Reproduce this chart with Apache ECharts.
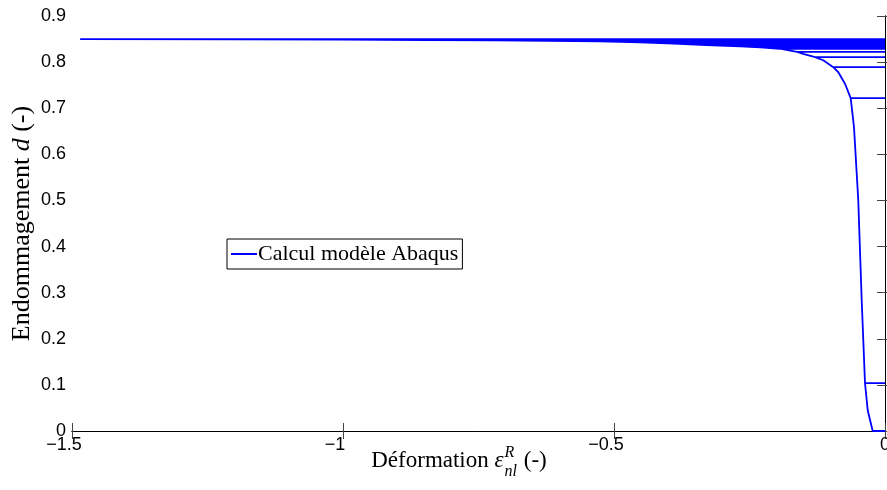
<!DOCTYPE html>
<html><head><meta charset="utf-8">
<script src="https://cdn.jsdelivr.net/npm/echarts@6/dist/echarts.min.js"></script>
<style>html,body{margin:0;padding:0;background:#fff}#c{width:887px;height:490px}</style>
</head><body><div id="c"></div>
<script>
// Envelope (monotonic loading curve): strain and damage
const envEps = [-0.0227, -0.0319, -0.0369, -0.043, -0.0493, -0.0572, -0.0633, -0.0738, -0.0861, -0.0954, -0.114, -0.129, -0.151, -0.162, -0.175, -0.194, -0.23, -0.2675, -0.33, -0.39, -0.452, -0.526, -0.62, -0.72, -0.85, -1.0, -1.2, -1.485];
const envD   = [0, 0.045, 0.104, 0.284, 0.50, 0.659, 0.722, 0.753, 0.778, 0.789, 0.804, 0.811, 0.818, 0.822, 0.825, 0.829, 0.832, 0.834, 0.837, 0.840, 0.843, 0.845, 0.846, 0.847, 0.848, 0.849, 0.8495, 0.85];
// Damage levels at which the model unloads back to zero strain
const unloadLevels = [0.104, 0.722, 0.789, 0.811, 0.822, 0.829, 0.832, 0.834, 0.837, 0.840, 0.843, 0.845, 0.846, 0.847, 0.848, 0.849, 0.8495, 0.85];
const startPoint = [0, 0];
const xTicks = [-1.5, -1, -0.5, 0];
const yTicks = [0, 0.1, 0.2, 0.3, 0.4, 0.5, 0.6, 0.7, 0.8, 0.9];
const seriesName = 'Calcul modèle Abaqus';

const path = [startPoint];
for (let i = 0; i < envEps.length; i++) {
  path.push([envEps[i], envD[i]]);
  if (unloadLevels.indexOf(envD[i]) >= 0) {
    path.push([0, envD[i]]);
    if (i < envEps.length - 1) path.push([envEps[i], envD[i]]);
  }
}

const chart = echarts.init(document.getElementById('c'), null, {renderer: 'canvas'});
const sans = '"Liberation Sans", Arial, sans-serif';
const serif = '"Liberation Serif", "Times New Roman", serif';
const fmtX = v => (v < 0 ? '{n|\u2212' + String(Math.abs(v)) + '}' : '{p|' + String(v) + '}');
const fmtY = v => (v === 0 ? '0' : v.toFixed(1));
const tickStyle = {show: true, inside: true, length: 8, lineStyle: {color: '#444', width: 1}};
const lineStyle = {show: true, lineStyle: {color: '#000', width: 1}};

// x-axis title layout (text measured, not data)
const ctx = document.createElement('canvas').getContext('2d');
function w(t, f) { ctx.font = f; return ctx.measureText(t).width; }
const fMain = '23px ' + serif, fIt = 'italic 23px ' + serif, fSm = 'italic 16px ' + serif;
const tA = 'Déformation ', tB = '\u03B5', tC = 'R', tD = 'nl', tE = ' (-)';
const wA = w(tA, fMain), wB = w(tB, fIt), wCD = Math.max(w(tC, fSm), w(tD, fSm)) + 2, wE = w(tE, fMain);
const cx = 459, base = 472;
let x0 = cx - (wA + wB + wCD + wE) / 2;
const graphics = [
  {type: 'text', x: x0, y: base, style: {text: tA, font: fMain, fill: '#000', verticalAlign: 'bottom'}},
  {type: 'text', x: x0 + wA, y: base, style: {text: tB, font: fIt, fill: '#000', verticalAlign: 'bottom'}},
  {type: 'text', x: x0 + wA + wB + 1, y: base - 11, style: {text: tC, font: fSm, fill: '#000', verticalAlign: 'bottom'}},
  {type: 'text', x: x0 + wA + wB + 1, y: base + 8, style: {text: tD, font: fSm, fill: '#000', verticalAlign: 'bottom'}},
  {type: 'text', x: x0 + wA + wB + wCD, y: base, style: {text: tE, font: fMain, fill: '#000', verticalAlign: 'bottom'}}
];

chart.setOption({
  animation: false,
  backgroundColor: '#fff',
  grid: {left: 72, right: 2, top: 16, bottom: 59, containLabel: false, outerBoundsMode: 'none'},
  xAxis: [
    {type: 'value', min: xTicks[0], max: xTicks[xTicks.length - 1], interval: 0.5, position: 'bottom',
     axisLine: lineStyle, axisTick: tickStyle, splitLine: {show: false},
     axisLabel: {formatter: fmtX, color: '#000', margin: 5,
       rich: {n: {fontFamily: sans, fontSize: 18, color: '#000', padding: [0, 16, 0, 0]},
              p: {fontFamily: sans, fontSize: 18, color: '#000'}}}},
    {type: 'value', min: xTicks[0], max: xTicks[xTicks.length - 1], interval: 0.5, position: 'top',
     axisLine: lineStyle, axisTick: tickStyle, splitLine: {show: false}, axisLabel: {show: false}}
  ],
  yAxis: [
    {type: 'value', min: yTicks[0], max: yTicks[yTicks.length - 1], interval: 0.1, position: 'left',
     axisLine: lineStyle, axisTick: tickStyle, splitLine: {show: false},
     axisLabel: {formatter: fmtY, fontFamily: sans, fontSize: 18, color: '#000', margin: 6},
     name: '{a|Endommagement }{i|d}{a| (-)}', nameLocation: 'middle', nameRotate: 90, nameGap: 37,
     nameMoveOverlap: false,
     nameTextStyle: {rich: {a: {fontFamily: serif, fontSize: 26, color: '#000'}, i: {fontFamily: serif, fontStyle: 'italic', fontSize: 26, color: '#000'}}}},
    {type: 'value', min: yTicks[0], max: yTicks[yTicks.length - 1], interval: 0.1, position: 'right',
     axisLine: lineStyle, axisTick: tickStyle, splitLine: {show: false}, axisLabel: {show: false}}
  ],
  legend: {
    show: true, left: 227, top: 239, orient: 'horizontal',
    data: [{name: seriesName, icon: 'rect'}], itemWidth: 26, itemHeight: 2, itemGap: 4,
    borderColor: '#000', borderWidth: 1, padding: [4, 4, 4, 4], backgroundColor: '#fff',
    textStyle: {fontFamily: serif, fontSize: 22, color: '#000', padding: [0, 0, 0, -4]}
  },
  series: [{
    name: seriesName, type: 'line', data: path, xAxisIndex: 0, yAxisIndex: 0,
    showSymbol: false, symbol: 'none', smooth: false, clip: true,
    lineStyle: {color: '#0000ff', width: 1.8}, itemStyle: {color: '#0000ff'}
  }],
  graphic: graphics
});
</script></body></html>
